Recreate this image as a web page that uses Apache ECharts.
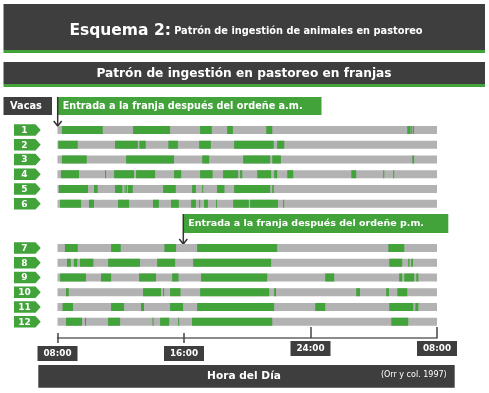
<!DOCTYPE html>
<html><head><meta charset="utf-8">
<script src="https://cdn.jsdelivr.net/npm/echarts@6/dist/echarts.min.js"></script>
<style>html,body{margin:0;padding:0;background:#fff}#c{width:489px;height:393px}</style>
</head><body><div id="c"></div>
<script>
// Rows (category axis); empty entries are the gap between the a.m. and p.m. groups
const rowLabels = ['1','2','3','4','5','6','','','7','8','9','10','11','12'];
// Time axis: hours elapsed since 08:00
const tickValues = [0, 8, 16, 24];
const tickLabels = ['08:00', '16:00', '24:00', '08:00'];
// Grazing bouts [start, end] in hours after 08:00
const cow1 = [[0.28,2.86],[4.78,7.12],[9.02,9.76],[10.73,11.09],[13.2,13.58],[22.12,22.33],[22.37,22.42],[22.48,22.54]];
const cow2 = [[0.05,1.28],[3.64,5.08],[5.18,5.58],[7.01,7.61],[8.96,9.70],[11.17,13.67],[13.89,14.34]];
const cow3 = [[0.28,1.85],[4.34,7.37],[9.15,9.59],[11.74,13.45],[13.58,14.13],[22.44,22.55]];
const cow4 = [[0.22,1.36],[3.01,3.06],[3.58,4.84],[4.97,6.17],[7.37,7.82],[9.02,9.81],[10.47,11.42],[11.55,11.68],[12.63,13.51],[13.70,13.89],[14.53,14.91],[18.58,18.89],[20.60,20.66],[21.23,21.29]];
const cow5 = [[0.09,1.93],[2.31,2.54],[3.64,4.10],[4.24,4.28],[4.34,4.38],[4.46,4.76],[6.68,7.48],[8.51,8.75],[9.15,9.19],[10.09,10.56],[11.17,13.45],[13.58,13.68]];
const cow6 = [[0.16,1.49],[1.99,2.31],[3.83,4.53],[6.04,6.41],[7.18,7.67],[8.45,8.75],[8.96,9.0],[9.27,9.51],[10.03,10.08],[11.11,12.10],[12.18,13.94],[14.27,14.32]];
const cow7 = [[0.47,1.28],[3.39,4.0],[6.76,7.5],[8.83,13.89],[20.92,21.93]];
const cow8 = [[0.60,0.84],[1.04,1.25],[1.42,2.27],[3.20,5.22],[6.30,7.44],[8.58,13.51],[20.98,21.80],[22.18,22.26],[22.37,22.48]];
const cow9 = [[0.16,1.80],[2.75,3.39],[5.16,6.23],[7.25,7.65],[9.08,13.26],[16.93,17.5],[21.61,21.80],[21.93,22.56],[22.69,22.82]];
const cow10 = [[0.54,0.71],[5.41,6.55],[6.68,6.72],[7.12,7.78],[9.02,13.39],[13.70,13.82],[18.89,19.13],[20.79,20.96],[21.49,22.12]];
const cow11 = [[0.32,0.98],[3.39,4.21],[5.28,5.47],[7.12,7.94],[8.83,13.70],[16.30,16.93],[20.98,22.5],[22.63,22.82]];
const cow12 = [[0.54,1.55],[1.74,1.78],[3.20,3.96],[6.01,6.06],[6.49,7.06],[7.63,7.67],[8.51,13.58],[21.11,22.18]];
const cows = {'1':cow1,'2':cow2,'3':cow3,'4':cow4,'5':cow5,'6':cow6,'7':cow7,'8':cow8,'9':cow9,'10':cow10,'11':cow11,'12':cow12};
const dayLength = 24;

const GREEN = '#41a33a', GRAY = '#b2b2b2', DARK = '#3e3e3e';
const FONT = '"DejaVu Sans", "Liberation Sans", sans-serif';

const segData = [];
rowLabels.forEach((lab, i) => { if (lab) cows[lab].forEach(s => segData.push([s[0], s[1], i])); });
const tagData = [];
rowLabels.forEach((lab, i) => { if (lab) tagData.push([0, i, lab]); });
const bgData = rowLabels.map(l => l ? dayLength : '-');

const BAR_H = 8;
const chart = echarts.init(document.getElementById('c'), null, {renderer: 'canvas'});
const labelBox = {
  color: '#fff', fontWeight: 'bold', fontSize: 8.8, fontFamily: FONT,
  backgroundColor: DARK, padding: [3, 6, 2, 6], lineHeight: 10,
  formatter: v => tickLabels[tickValues.indexOf(v)]
};
chart.setOption({
  backgroundColor: '#fff',
  animation: false,
  grid: {left: 57.5, right: 52, top: 122.6, height: 206.5},
  yAxis: {type: 'category', data: rowLabels, inverse: true, show: false},
  xAxis: [
    {type: 'value', min: 0, max: dayLength, interval: 8, position: 'bottom', offset: 9,
     axisLine: {show: true, lineStyle: {color: '#666', width: 1.5}},
     axisTick: {show: true, customValues: [tickValues[0], tickValues[1]], length: 5, lineStyle: {color: '#444', width: 1.5}},
     axisLabel: Object.assign({show: true, customValues: [tickValues[0], tickValues[1]], margin: 8}, labelBox),
     splitLine: {show: false}},
    {type: 'value', min: 0, max: dayLength, interval: 8, position: 'bottom', offset: 9,
     axisLine: {show: false},
     axisTick: {show: true, inside: true, customValues: [tickValues[0], tickValues[1]], length: 5, lineStyle: {color: '#444', width: 1.5}},
     axisLabel: {show: false}, splitLine: {show: false}},
    {type: 'value', min: 0, max: dayLength, interval: 8, position: 'bottom', offset: 9,
     axisLine: {show: false},
     axisTick: {show: true, inside: true, customValues: [tickValues[2], tickValues[3]], length: 11, lineStyle: {color: '#444', width: 1.5}},
     axisLabel: Object.assign({show: true, customValues: [tickValues[2], tickValues[3]], margin: 3}, labelBox),
     splitLine: {show: false}}
  ],
  series: [
    {type: 'bar', data: bgData, barWidth: BAR_H, itemStyle: {color: GRAY}, silent: true, z: 2},
    {type: 'custom', data: segData, encode: {x: [0, 1], y: 2}, z: 3, silent: true,
     renderItem: (params, api) => {
       const row = api.value(2);
       const p0 = api.coord([api.value(0), row]);
       const p1 = api.coord([api.value(1), row]);
       return {type: 'rect', shape: {x: p0[0], y: p0[1] - BAR_H / 2, width: Math.max(1, p1[0] - p0[0]), height: BAR_H},
               style: {fill: GREEN}};
     }},
    {type: 'custom', data: tagData, encode: {x: 0, y: 1}, z: 4, silent: true, clip: false,
     renderItem: (params, api) => {
       const y = api.coord([0, api.value(1)])[1];
       const lab = tagData[params.dataIndex][2];
       return {type: 'group', children: [
         {type: 'polygon', shape: {points: [[14, y - 5.7], [35.5, y - 5.7], [40.7, y], [35.5, y + 5.7], [14, y + 5.7]]}, style: {fill: GREEN}},
         {type: 'text', style: {text: lab, x: 24.5, y: y + 0.5, align: 'center', verticalAlign: 'middle', fill: '#fff', font: 'bold 9px ' + FONT}}
       ]};
     }}
  ],
  graphic: [
    {type: 'rect', shape: {x: 3.5, y: 4, width: 481.5, height: 46}, style: {fill: DARK}},
    {type: 'rect', shape: {x: 3.5, y: 50, width: 481.5, height: 3}, style: {fill: GREEN}},
    {type: 'text', style: {x: 246, y: 31, align: 'center', verticalAlign: 'middle', fill: '#fff',
      rich: {a: {fontSize: 15.5, fontWeight: 'bold', fontFamily: FONT, fill: '#fff'}, b: {fontSize: 9.8, fontWeight: 'bold', fontFamily: FONT, fill: '#fff'}},
      text: '{a|Esquema 2:} {b|Patrón de ingestión de animales en pastoreo}'}},
    {type: 'rect', shape: {x: 3.5, y: 62, width: 481.5, height: 22}, style: {fill: DARK}},
    {type: 'rect', shape: {x: 3.5, y: 84, width: 481.5, height: 3}, style: {fill: GREEN}},
    {type: 'text', style: {x: 244, y: 73.5, align: 'center', verticalAlign: 'middle', fill: '#fff',
      font: 'bold 12.2px ' + FONT, text: 'Patrón de ingestión en pastoreo en franjas'}},
    {type: 'rect', shape: {x: 3.5, y: 97, width: 48.5, height: 18}, style: {fill: DARK}},
    {type: 'text', style: {x: 26, y: 106.5, align: 'center', verticalAlign: 'middle', fill: '#fff', font: 'bold 9.8px ' + FONT, text: 'Vacas'}},
    {type: 'rect', shape: {x: 57.5, y: 97, width: 264, height: 18}, style: {fill: GREEN}},
    {type: 'text', style: {x: 62.7, y: 106.5, align: 'left', verticalAlign: 'middle', fill: '#fff', font: 'bold 9.7px ' + FONT, text: 'Entrada a la franja después del ordeñe a.m.'}},
    {type: 'line', shape: {x1: 57.7, y1: 97, x2: 57.7, y2: 126}, style: {stroke: '#333', lineWidth: 1.5}},
    {type: 'polyline', shape: {points: [[53.7, 121], [57.7, 126], [61.7, 121]]}, style: {stroke: '#333', lineWidth: 1.5, fill: null}},
    {type: 'rect', shape: {x: 183.3, y: 214, width: 265, height: 19}, style: {fill: GREEN}},
    {type: 'text', style: {x: 188.3, y: 223.5, align: 'left', verticalAlign: 'middle', fill: '#fff', font: 'bold 9.5px ' + FONT, text: 'Entrada a la franja después del ordeñe p.m.'}},
    {type: 'line', shape: {x1: 183.3, y1: 214, x2: 183.3, y2: 244}, style: {stroke: '#333', lineWidth: 1.5}},
    {type: 'polyline', shape: {points: [[179.3, 239], [183.3, 244], [187.3, 239]]}, style: {stroke: '#333', lineWidth: 1.5, fill: null}},
    {type: 'rect', shape: {x: 38.3, y: 365, width: 416.4, height: 22.7}, style: {fill: DARK}},
    {type: 'text', style: {x: 244, y: 376.5, align: 'center', verticalAlign: 'middle', fill: '#fff', font: 'bold 10.6px ' + FONT, text: 'Hora del Día'}},
    {type: 'text', style: {x: 446.7, y: 374.5, align: 'right', verticalAlign: 'middle', fill: '#fff', font: '8px ' + FONT, text: '(Orr y col. 1997)'}}
  ]
});
</script></body></html>
